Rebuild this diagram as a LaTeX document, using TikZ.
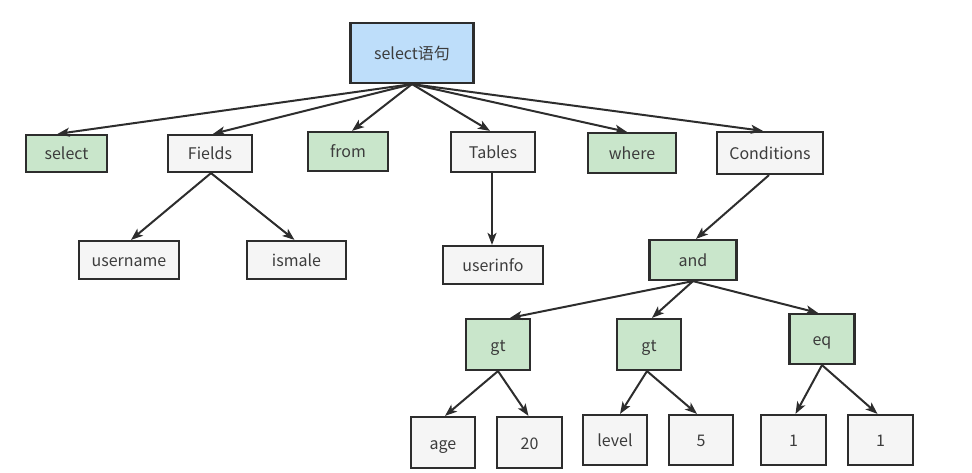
\documentclass[tikz,border=0pt]{standalone}
\usepackage{fontspec}
\newfontfamily\cjk{Noto Sans CJK SC}
\usetikzlibrary{arrows.meta}
\definecolor{gfill}{RGB}{201,230,203}
\definecolor{bfill}{RGB}{190,222,250}
\definecolor{wfill}{RGB}{245,245,245}
\definecolor{edge}{RGB}{45,45,45}
\definecolor{txt}{RGB}{60,60,60}
\tikzset{
  box/.style={draw=edge, line width=2.2pt, inner sep=0pt, text=txt,
    text height=13pt, text depth=0pt,
    font=\cjk\fontsize{16}{18}\selectfont},
  gbox/.style={box, fill=gfill},
  wbox/.style={box, fill=wfill},
  bbox/.style={box, fill=bfill},
  arr/.style={draw=edge, line width=2pt, -{Stealth[length=12pt,width=9pt,inset=3pt]}},
}
\begin{document}
\begin{tikzpicture}[x=1pt,y=-1pt]
\useasboundingbox (0,0) rectangle (972,473);
\node[bbox, minimum width=123pt, minimum height=60pt] (root) at (412,53) {select语句};
% row 1
\node[gbox, minimum width=81pt, minimum height=37pt] (select) at (66.5,153.5) {select};
\node[wbox, minimum width=84pt, minimum height=37pt] (fields) at (210,153.5) {Fields};
\node[gbox, minimum width=80pt, minimum height=39pt] (from) at (348,151.5) {from};
\node[wbox, minimum width=84pt, minimum height=40pt] (tables) at (493,152) {Tables};
\node[gbox, minimum width=88pt, minimum height=40pt] (where) at (632,153) {where};
\node[wbox, minimum width=106pt, minimum height=42pt] (cond) at (770,153) {Conditions};
% row 2
\node[wbox, minimum width=100pt, minimum height=38pt] (username) at (129,260) {username};
\node[wbox, minimum width=99pt, minimum height=38pt] (ismale) at (296.5,260) {ismale};
\node[wbox, minimum width=100pt, minimum height=38pt] (userinfo) at (493,265) {userinfo};
\node[gbox, minimum width=87pt, minimum height=40pt] (and) at (693,260) {and};
% row 3
\node[gbox, minimum width=64pt, minimum height=51pt] (gt1) at (498,344.5) {gt};
\node[gbox, minimum width=64pt, minimum height=51pt] (gt2) at (649,344.5) {gt};
\node[gbox, minimum width=65pt, minimum height=50pt] (eq) at (822,339) {eq};
% row 4
\node[wbox, minimum width=64pt, minimum height=51pt] (age) at (443,442.5) {age};
\node[wbox, minimum width=65pt, minimum height=51pt] (v20) at (529.5,442.5) {20};
\node[wbox, minimum width=64pt, minimum height=50pt] (level) at (615,440) {level};
\node[wbox, minimum width=64pt, minimum height=50pt] (v5) at (701,440) {5};
\node[wbox, minimum width=65pt, minimum height=50pt] (one1) at (793.5,440) {1};
\node[wbox, minimum width=65pt, minimum height=50pt] (one2) at (880.5,440) {1};
% edges
\draw[arr] (root.south) -- ([xshift=-9pt]select.north);
\draw[arr] (root.south) -- ([xshift=3pt]fields.north);
\draw[arr] (root.south) -- ([xshift=4pt]from.north);
\draw[arr] (root.south) -- ([xshift=-3pt]tables.north);
\draw[arr] (root.south) -- ([xshift=-5pt]where.north);
\draw[arr] (root.south) -- ([xshift=-7pt]cond.north);
\draw[arr] ([xshift=1pt]fields.south) -- ([xshift=2pt]username.north);
\draw[arr] ([xshift=1pt]fields.south) -- ([xshift=-2pt]ismale.north);
\draw[arr] ([xshift=-1pt]tables.south) -- ([xshift=-1pt]userinfo.north);
\draw[arr] ([xshift=-1pt]cond.south) -- ([xshift=3pt]and.north);
\draw[arr] (and.south) -- ([xshift=12pt]gt1.north);
\draw[arr] (and.south) -- ([xshift=3pt]gt2.north);
\draw[arr] (and.south) -- ([xshift=-4pt]eq.north);
\draw[arr] (gt1.south) -- ([xshift=2pt]age.north);
\draw[arr] (gt1.south) -- ([xshift=-1pt]v20.north);
\draw[arr] ([xshift=-2pt]gt2.south) -- ([xshift=5pt]level.north);
\draw[arr] ([xshift=-2pt]gt2.south) -- ([xshift=-4pt]v5.north);
\draw[arr] (eq.south) -- ([xshift=2pt]one1.north);
\draw[arr] (eq.south) -- ([xshift=-3pt]one2.north);
\end{tikzpicture}
\end{document}
